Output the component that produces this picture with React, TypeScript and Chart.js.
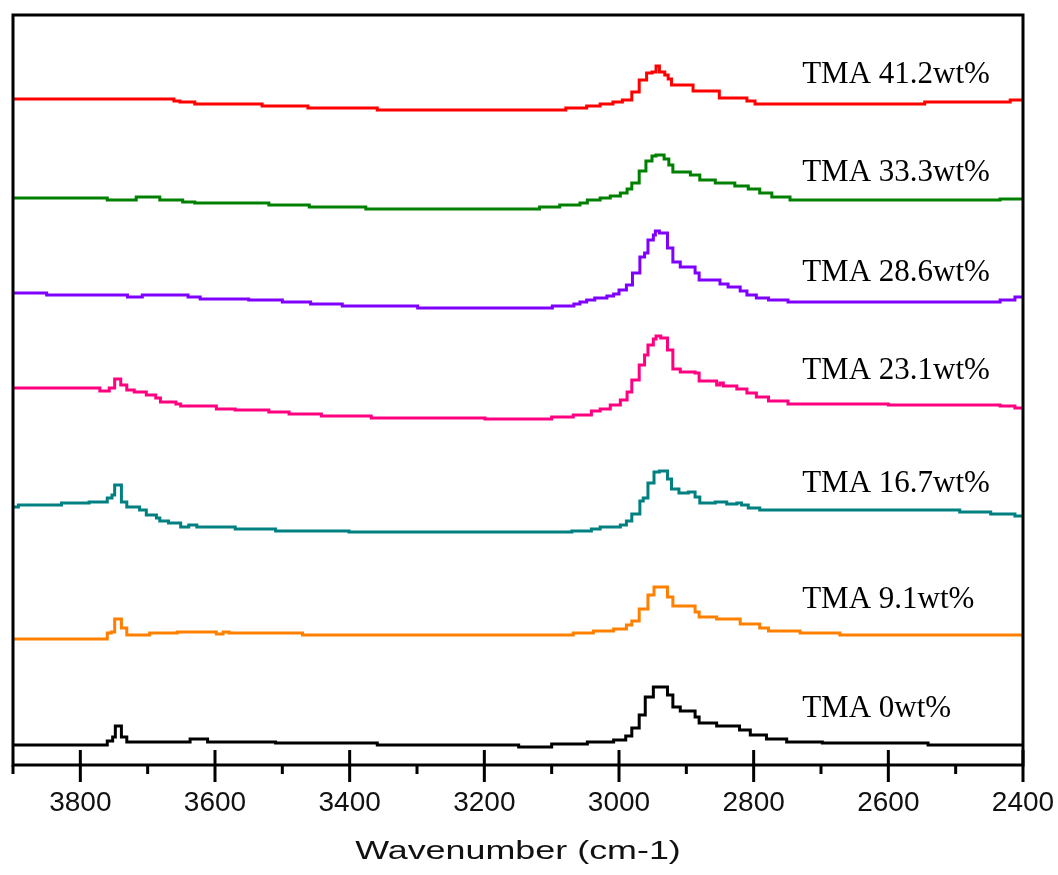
import React, { useEffect, useRef } from "react";
import { Chart, registerables } from "chart.js";

Chart.register(...registerables);

// Wavenumber (cm-1) where each step starts, and the offset absorbance (a.u.) of that step
const wn412 = [3900, 3661, 3652, 3630, 3530, 3462, 3359, 3079, 3048, 3028, 3009, 2995, 2981, 2970, 2959, 2951, 2945, 2940, 2932, 2927, 2922, 2890, 2851, 2810, 2798, 2546, 2419, 2400];
const ab412 = [666, 664, 663, 661, 659, 657, 655, 657, 659, 661, 663, 665, 673, 685, 692, 693, 699, 693, 690, 686, 680, 674, 667, 664, 661, 663, 665, 665];

const wn333 = [3900, 3760, 3717, 3682, 3648, 3630, 3520, 3460, 3376, 3118, 3088, 3058, 3047, 3028, 3013, 2998, 2988, 2981, 2970, 2960, 2951, 2945, 2933, 2926, 2920, 2894, 2880, 2857, 2828, 2808, 2791, 2773, 2746, 2434, 2400];
const ab333 = [567, 565, 568, 565, 563, 562, 560, 558, 556, 558, 560, 562, 565, 567, 569, 572, 576, 582, 594, 604, 609, 610, 606, 600, 593, 590, 585, 582, 579, 576, 572, 568, 565, 566, 566];

const wn286 = [3900, 3850, 3730, 3708, 3640, 3622, 3550, 3500, 3458, 3411, 3299, 3099, 3067, 3058, 3048, 3036, 3018, 3008, 3000, 2989, 2980, 2969, 2962, 2957, 2949, 2946, 2940, 2928, 2920, 2909, 2887, 2881, 2850, 2838, 2820, 2810, 2796, 2778, 2749, 2434, 2412, 2400];
const ab286 = [472, 470, 468, 470, 468, 466, 465, 463, 461, 459, 457, 459, 461, 463, 465, 467, 469, 471, 475, 480, 492, 508, 512, 525, 530, 534, 532, 517, 503, 498, 492, 485, 481, 478, 474, 470, 467, 465, 463, 465, 468, 468];

const wn231 = [3900, 3771, 3757, 3749, 3740, 3731, 3720, 3702, 3688, 3681, 3658, 3651, 3598, 3570, 3520, 3490, 3442, 3368, 3199, 3100, 3068, 3041, 3028, 3013, 2998, 2988, 2981, 2970, 2962, 2957, 2949, 2945, 2938, 2928, 2920, 2909, 2887, 2881, 2855, 2850, 2845, 2825, 2810, 2796, 2778, 2749, 2600, 2434, 2412, 2400];
const ab231 = [377, 374, 377, 386, 380, 375, 373, 370, 367, 363, 361, 359, 356, 355, 353, 351, 349, 347, 346, 348, 350, 354, 356, 360, 365, 373, 385, 400, 410, 420, 426, 429, 427, 415, 396, 393, 392, 384, 380, 382, 379, 376, 372, 368, 364, 361, 360, 359, 357, 357];

const wn167 = [3900, 3892, 3828, 3787, 3760, 3753, 3749, 3739, 3731, 3712, 3702, 3687, 3682, 3669, 3651, 3639, 3627, 3570, 3510, 3401, 3070, 3041, 3028, 2998, 2989, 2981, 2969, 2964, 2957, 2948, 2940, 2928, 2922, 2911, 2897, 2887, 2880, 2857, 2840, 2825, 2818, 2808, 2791, 2494, 2448, 2412, 2400];
const ab167 = [258, 260, 262, 263, 267, 270, 280, 263, 258, 255, 250, 247, 244, 242, 238, 240, 238, 236, 234, 233, 234, 236, 238, 240, 244, 251, 264, 267, 282, 293, 294, 286, 276, 272, 273, 268, 262, 263, 261, 262, 260, 257, 255, 253, 251, 249, 249];

const wn91 = [3900, 3760, 3754, 3749, 3739, 3731, 3697, 3656, 3598, 3588, 3579, 3470, 3068, 3038, 3008, 2989, 2981, 2970, 2957, 2948, 2928, 2920, 2887, 2881, 2855, 2820, 2791, 2778, 2731, 2672, 2400];
const ab91 = [126, 132, 133, 146, 137, 130, 132, 133, 131, 133, 132, 130, 132, 134, 136, 140, 144, 156, 170, 178, 168, 159, 153, 148, 146, 141, 137, 134, 132, 130, 130];

const wn0 = [3900, 3760, 3752, 3748, 3739, 3731, 3637, 3611, 3510, 3359, 3149, 3100, 3047, 3038, 3008, 2990, 2981, 2970, 2961, 2949, 2928, 2920, 2909, 2887, 2881, 2855, 2821, 2805, 2781, 2751, 2698, 2541, 2400];
const ab0 = [20, 24, 28, 39, 28, 23, 26, 23, 22, 20, 18, 21, 23, 23, 25, 29, 37, 50, 68, 78, 70, 58, 54, 48, 42, 39, 35, 30, 26, 23, 22, 20, 20];

const seriesNames = ["TMA 41.2wt%", "TMA 33.3wt%", "TMA 28.6wt%", "TMA 23.1wt%", "TMA 16.7wt%", "TMA 9.1wt%", "TMA 0wt%"];
const seriesColors = ["#FF0000", "#008000", "#8000FF", "#FF0080", "#008080", "#FF8000", "#000000"];
const seriesX = [wn412, wn333, wn286, wn231, wn167, wn91, wn0];
const seriesY = [ab412, ab333, ab286, ab231, ab167, ab91, ab0];

// label anchor (wavenumber, offset) for each curve name
const labelWn = 2728;
const labelAb = [682.5, 584.5, 484.5, 386.5, 273.5, 157.5, 48];

const majorTicks = [3800, 3600, 3400, 3200, 3000, 2800, 2600, 2400];
const minorTicks = [3900, 3700, 3500, 3300, 3100, 2900, 2700, 2500];
const xTitle = "Wavenumber (cm-1)";

const decorPlugin = {
  id: "decor",
  afterDatasetsDraw(chart: any) {
    const { ctx, chartArea, scales } = chart;
    const { left, right, top, bottom } = chartArea;
    const x = scales.x;
    const y = scales.y;
    ctx.save();
    ctx.strokeStyle = "#000";
    ctx.lineWidth = 3;
    ctx.lineJoin = "miter";
    ctx.strokeRect(left, top, right - left, bottom - top);
    ctx.beginPath();
    majorTicks.forEach((t) => {
      const px = x.getPixelForValue(t);
      ctx.moveTo(px, bottom - 15);
      ctx.lineTo(px, bottom + 17);
    });
    minorTicks.forEach((t) => {
      const px = x.getPixelForValue(t);
      ctx.moveTo(px, bottom);
      ctx.lineTo(px, bottom + 9);
    });
    ctx.stroke();

    ctx.fillStyle = "#000";
    ctx.font = '31px "Liberation Serif", "Times New Roman", serif';
    ctx.textAlign = "left";
    ctx.textBaseline = "alphabetic";
    seriesNames.forEach((n, i) => {
      ctx.fillText(n, x.getPixelForValue(labelWn), y.getPixelForValue(labelAb[i]));
    });

    ctx.fillStyle = "#111";
    ctx.font = '26px "Liberation Sans", Arial, sans-serif';
    ctx.textAlign = "center";
    ctx.translate((left + right) / 2, 859);
    ctx.scale(1.38, 1);
    ctx.fillText(xTitle, 0, 0);
    ctx.restore();
  },
};

export default function App() {
  const ref = useRef<HTMLCanvasElement>(null);
  useEffect(() => {
    const datasets = seriesNames.map((name, i) => ({
      label: name,
      data: seriesX[i].map((wn, j) => ({ x: wn, y: seriesY[i][j] })),
      borderColor: seriesColors[i],
      backgroundColor: seriesColors[i],
      borderWidth: 3,
      pointRadius: 0,
      stepped: true,
      fill: false,
    }));
    const chart = new Chart(ref.current!, {
      type: "line",
      data: { datasets },
      options: {
        animation: false,
        responsive: false,
        layout: { padding: { left: 13, right: 35, top: 15, bottom: 0 } },
        plugins: { legend: { display: false }, tooltip: { enabled: false } },
        scales: {
          x: {
            type: "linear",
            reverse: true,
            min: 2400,
            max: 3900,
            grid: { display: false, drawTicks: false },
            border: { display: false },
            ticks: {
              stepSize: 100,
              autoSkip: false,
              maxRotation: 0,
              padding: 21,
              color: "#111",
              font: { family: '"Liberation Sans", Arial, sans-serif', size: 28 },
              callback: (v: any) => (majorTicks.includes(Number(v)) ? String(v) : ""),
            },
            afterFit: (scale: any) => {
              scale.height = 110;
              scale.paddingLeft = 0;
              scale.paddingRight = 0;
            },
          },
          y: { display: false, min: 0, max: 750 },
        },
      },
      plugins: [decorPlugin],
    } as any);
    return () => chart.destroy();
  }, []);
  return (
    <div style={{ position: "absolute", left: 0, top: 0, width: 1058, height: 875, background: "#fff" }}>
      <canvas ref={ref} width={1058} height={875} style={{ display: "block" }} />
    </div>
  );
}
